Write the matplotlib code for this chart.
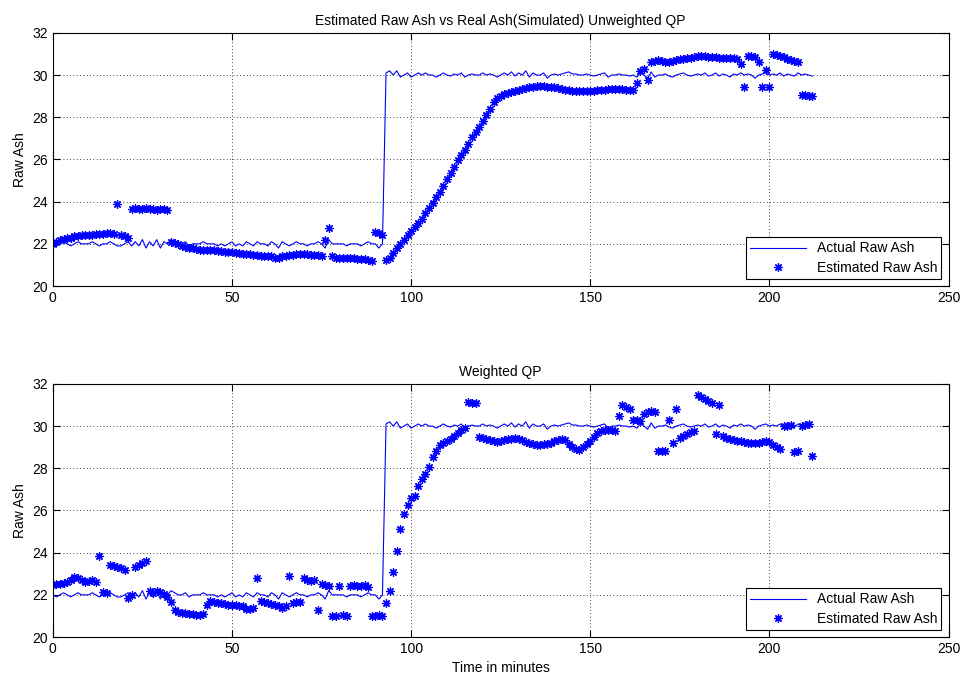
import numpy as np
import matplotlib
matplotlib.use("Agg")
import matplotlib.pyplot as plt

plt.rcParams['font.family'] = ['Liberation Sans', 'DejaVu Sans']
plt.rcParams['font.size'] = 10

# one sample per minute, 0..212
minutes = np.arange(213)

# simulated "real" ash, same signal in both panels
actual_ash = [
    22.0, 21.9, 22.0, 22.1, 22.0, 21.9, 22.0, 22.1, 22.0, 22.0,
    22.0, 22.1, 22.0, 21.9, 22.0, 22.0, 22.1, 22.0, 21.9, 21.9,
    22.0, 22.1, 21.9, 22.1, 21.9, 22.2, 21.8, 22.1, 21.9, 22.2,
    21.8, 22.1, 22.0, 22.2, 22.1, 22.0, 22.0, 22.1, 21.9, 22.0,
    22.0, 22.0, 22.1, 22.0, 22.0, 22.0, 21.9, 22.0, 21.9, 22.0,
    22.1, 21.9, 22.0, 21.9, 22.1, 22.0, 21.9, 22.1, 22.0, 22.0,
    21.9, 22.1, 22.0, 21.8, 22.1, 22.0, 21.9, 22.0, 22.1, 22.0,
    22.0, 21.9, 22.0, 22.0, 22.1, 22.0, 21.8, 22.2, 22.0, 22.0,
    22.0, 22.0, 21.9, 22.0, 22.0, 22.0, 21.9, 22.0, 22.1, 22.0,
    22.0, 21.8, 22.0, 30.1, 30.2, 30.0, 30.2, 29.9, 30.0, 30.1,
    29.9, 30.0, 30.1, 30.0, 30.1, 30.0, 30.0, 29.9, 30.0, 30.1,
    30.0, 29.95, 30.05, 30.0, 30.1, 29.9, 30.0, 30.05, 30.0, 30.0,
    30.1, 30.0, 30.05, 30.0, 29.9, 30.0, 30.1, 30.0, 30.15, 29.95,
    30.1, 30.0, 30.2, 29.9, 30.1, 30.0, 30.0, 30.1, 29.85, 30.0,
    30.05, 30.0, 30.05, 30.1, 30.15, 30.05, 30.05, 30.0, 30.0, 30.05,
    30.0, 29.95, 30.0, 30.05, 30.1, 29.9, 30.0, 30.0, 30.05, 30.0,
    30.0, 29.95, 30.0, 29.9, 30.1, 30.0, 29.85, 30.15, 29.9, 30.0,
    30.0, 30.05, 29.95, 29.9, 30.0, 30.05, 30.1, 30.0, 29.95, 30.0,
    30.05, 30.0, 30.1, 29.95, 30.0, 30.1, 29.95, 30.05, 30.0, 29.9,
    30.05, 30.0, 30.1, 30.0, 30.05, 30.0, 29.85, 30.0, 30.05, 30.1,
    30.0, 30.05, 30.0, 30.1, 29.95, 30.05, 30.0, 29.95, 30.1, 30.0,
    30.05, 30.0, 29.95,
]

# estimate from the unweighted QP (top panel)
est_unweighted = [
    22.0, 22.1, 22.2, 22.25, 22.3, 22.3, 22.35, 22.35, 22.4, 22.4,
    22.4, 22.4, 22.45, 22.45, 22.45, 22.5, 22.5, 22.45, 23.9, 22.4,
    22.35, 22.3, 23.65, 23.7, 23.65, 23.65, 23.7, 23.65, 23.65, 23.6,
    23.65, 23.65, 23.6, 22.1, 22.05, 22.0, 21.9, 21.85, 21.8, 21.8,
    21.75, 21.7, 21.7, 21.7, 21.7, 21.7, 21.65, 21.65, 21.6, 21.6,
    21.6, 21.55, 21.55, 21.5, 21.5, 21.5, 21.45, 21.45, 21.4, 21.4,
    21.4, 21.4, 21.35, 21.35, 21.4, 21.4, 21.45, 21.45, 21.5, 21.5,
    21.5, 21.5, 21.45, 21.45, 21.45, 21.4, 22.2, 22.75, 21.4, 21.35,
    21.35, 21.35, 21.35, 21.35, 21.35, 21.3, 21.3, 21.3, 21.25, 21.2,
    22.55, 22.5, 22.4, 21.25, 21.35, 21.55, 21.8, 22.0, 22.2, 22.4,
    22.6, 22.8, 23.0, 23.2, 23.45, 23.7, 23.95, 24.2, 24.45, 24.75,
    25.05, 25.35, 25.65, 25.95, 26.2, 26.45, 26.75, 27.05, 27.3, 27.55,
    27.8, 28.1, 28.4, 28.7, 28.9, 29.0, 29.1, 29.15, 29.2, 29.25,
    29.3, 29.35, 29.4, 29.45, 29.45, 29.48, 29.48, 29.48, 29.45, 29.45,
    29.42, 29.4, 29.35, 29.3, 29.28, 29.25, 29.25, 29.22, 29.22, 29.22,
    29.25, 29.25, 29.28, 29.3, 29.3, 29.32, 29.35, 29.35, 29.35, 29.33,
    29.3, 29.3, 29.3, 29.6, 30.2, 30.3, 29.77, 30.64, 30.65, 30.7,
    30.65, 30.6, 30.6, 30.65, 30.7, 30.75, 30.78, 30.8, 30.83, 30.85,
    30.88, 30.88, 30.88, 30.85, 30.85, 30.85, 30.83, 30.82, 30.8, 30.8,
    30.8, 30.77, 30.5, 29.45, 30.88, 30.9, 30.85, 30.6, 29.45, 30.25,
    29.45, 31.0, 30.95, 30.9, 30.85, 30.78, 30.72, 30.66, 30.6, 29.05,
    29.05, 29.0, 29.0,
]

# estimate from the weighted QP (bottom panel)
est_weighted = [
    22.45, 22.5, 22.5, 22.55, 22.6, 22.7, 22.85, 22.8, 22.7, 22.6,
    22.65, 22.7, 22.6, 23.85, 22.15, 22.1, 23.4, 23.35, 23.3, 23.25,
    23.2, 21.85, 22.0, 23.3, 23.4, 23.5, 23.6, 22.2, 22.1, 22.2,
    22.15, 22.05, 21.9, 21.65, 21.3, 21.2, 21.15, 21.15, 21.1, 21.1,
    21.05, 21.05, 21.1, 21.5, 21.7, 21.65, 21.6, 21.6, 21.55, 21.5,
    21.5, 21.5, 21.45, 21.45, 21.35, 21.35, 21.4, 22.8, 21.7, 21.65,
    21.6, 21.55, 21.5, 21.45, 21.4, 21.45, 22.9, 21.6, 21.65, 21.65,
    22.8, 22.7, 22.65, 22.7, 21.3, 22.5, 22.45, 22.4, 21.0, 21.0,
    22.4, 21.05, 21.0, 22.4, 22.45, 22.4, 22.4, 22.45, 22.35, 21.0,
    21.0, 21.05, 21.0, 21.6, 22.2, 23.1, 24.1, 25.1, 25.85, 26.25,
    26.6, 26.7, 27.15, 27.5, 27.75, 28.05, 28.55, 28.8, 29.1, 29.2,
    29.3, 29.4, 29.55, 29.65, 29.8, 29.9, 31.15, 31.1, 31.1, 29.5,
    29.45, 29.4, 29.35, 29.3, 29.25, 29.3, 29.35, 29.4, 29.4, 29.42,
    29.4, 29.35, 29.25, 29.2, 29.15, 29.1, 29.1, 29.15, 29.15, 29.2,
    29.3, 29.35, 29.4, 29.35, 29.15, 29.0, 28.9, 28.85, 29.0, 29.15,
    29.3, 29.5, 29.65, 29.75, 29.8, 29.82, 29.8, 29.75, 30.5, 31.0,
    30.9, 30.8, 30.3, 30.3, 30.25, 30.55, 30.65, 30.7, 30.68, 28.8,
    28.8, 28.8, 30.3, 29.2, 30.8, 29.45, 29.55, 29.6, 29.7, 29.75,
    31.45, 31.4, 31.3, 31.2, 31.1, 29.6, 31.0, 29.55, 29.45, 29.4,
    29.35, 29.3, 29.3, 29.25, 29.2, 29.2, 29.2, 29.2, 29.25, 29.28,
    29.25, 29.1, 29.0, 28.9, 30.0, 30.0, 30.05, 28.75, 28.8, 30.0,
    30.05, 30.1, 28.6,
]

titles = ["Estimated Raw Ash vs Real Ash(Simulated) Unweighted QP", "Weighted QP"]
estimates = [est_unweighted, est_weighted]

fig = plt.figure(figsize=(9.61, 6.77), dpi=100)
boxes = [[0.055, 0.5775, 0.932, 0.374], [0.055, 0.059, 0.932, 0.374]]

for box, title, est in zip(boxes, titles, estimates):
    ax = fig.add_axes(box)
    ax.plot(minutes, actual_ash, '-', color=(0, 0, 1), lw=0.8, label='Actual Raw Ash')
    ax.plot(minutes, est, ls='none', marker=(8, 2, 0), ms=6, mew=0.9,
            color=(0, 0, 1), label='Estimated Raw Ash')
    ax.set_xlim(0, 250)
    ax.set_ylim(20, 32)
    ax.set_xticks(range(0, 251, 50))
    ax.set_yticks(range(20, 33, 2))
    ax.grid(True, ls=(0, (1, 3)), color='k', lw=0.6)
    ax.tick_params(direction='in', top=True, right=True, length=5, colors='k')
    ax.set_title(title, fontsize=10)
    ax.set_ylabel('Raw Ash')
    for s in ax.spines.values():
        s.set_linewidth(0.8)
    leg = ax.legend(loc='lower right', bbox_to_anchor=(0.992, 0.027),
                    fancybox=False, edgecolor='k', framealpha=1,
                    borderaxespad=0, handlelength=4.0, fontsize=10,
                    borderpad=0.3, labelspacing=0.4)
    leg.get_frame().set_linewidth(0.8)

ax.set_xlabel('Time in minutes')

fig.savefig("out.png", dpi=100)
